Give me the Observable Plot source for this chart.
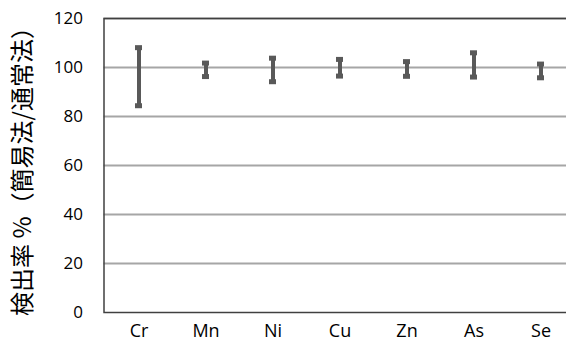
<!DOCTYPE html>
<html>
<head>
<meta charset="utf-8">
<script src="https://cdn.jsdelivr.net/npm/d3@7"></script>
<script src="https://cdn.jsdelivr.net/npm/@observablehq/plot@0.6"></script>
<style>
  html, body { margin: 0; padding: 0; background: #fff; }
  svg { display: block; }
</style>
</head>
<body>
<div id="chart"></div>
<script>
const elements = ["Cr", "Mn", "Ni", "Cu", "Zn", "As", "Se"];
const lowValues = [84.4, 96.3, 94.2, 96.5, 96.4, 96.1, 95.8];
const highValues = [108.1, 101.8, 103.8, 103.3, 102.4, 106.0, 101.4];
const yTicks = [0, 20, 40, 60, 80, 100, 120];
const yTitle = "検出率 %（簡易法/通常法）";

const data = elements.map((e, i) => ({ element: e, low: lowValues[i], high: highValues[i] }));

const font = "'Open Sans', 'Noto Sans CJK JP', sans-serif";
const titleFont = "'Noto Sans CJK JP', sans-serif";

const chart = Plot.plot({
  width: 566,
  height: 351,
  marginLeft: 103.5,
  marginRight: -8.5,
  marginTop: 18,
  marginBottom: 39,
  style: { fontFamily: font, background: "#fff", overflow: "hidden" },
  x: { domain: elements, padding: 0, label: null },
  y: { domain: [0, 120], label: null },
  marks: [
    Plot.gridY(yTicks.slice(1), { stroke: "#a6a6a6", strokeOpacity: 1, strokeWidth: 2 }),
    Plot.frame({ stroke: "#404040", strokeWidth: 1.5 }),
    Plot.axisY(yTicks, { tickSize: 0, tickPadding: 21, fontSize: 17, fill: "#000", label: null }),
    Plot.axisX({ tickSize: 0, tickPadding: 12, fontSize: 18, fill: "#000", label: null }),
    Plot.ruleX(data, { x: "element", y1: "low", y2: "high", stroke: "#595959", strokeWidth: 4 }),
    Plot.tickY(data, { x: "element", y: "low", stroke: "#595959", strokeWidth: 5, insetLeft: 30, insetRight: 30 }),
    Plot.tickY(data, { x: "element", y: "high", stroke: "#595959", strokeWidth: 5, insetLeft: 30, insetRight: 30 }),
    Plot.text([yTitle], { frameAnchor: "left", dx: -81, rotate: -90, textAnchor: "middle", fontSize: 24, fill: "#000", fontFamily: titleFont })
  ]
});
document.getElementById("chart").appendChild(chart);
</script>
</body>
</html>
